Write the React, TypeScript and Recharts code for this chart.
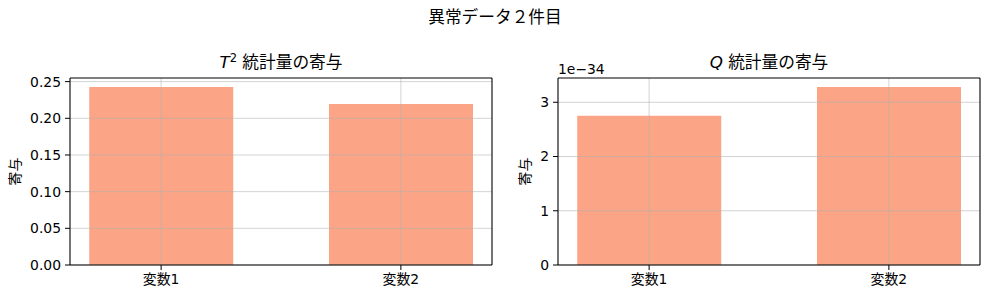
import { BarChart, Bar, XAxis, YAxis, ReferenceLine } from 'recharts';

const categories = ['変数1', '変数2'];
const t2Values = [0.2428, 0.2196];
const qValues = [2.749, 3.283]; // ×1e-34
const t2Ticks = [0, 0.05, 0.1, 0.15, 0.2, 0.25];
const qTicks = [0, 1, 2, 3];

const FONT = '"DejaVu Sans", "Noto Sans CJK JP", sans-serif';
const BAR_COLOR = '#fca486';
const GRID = '#b0b0b0';
const X_DOMAIN: [number, number] = [-0.38, 1.38];

interface PanelProps {
  values: number[];
  yTicks: number[];
  yFormat: (v: number) => string;
  yAxisWidth: number;
  rightMargin: number;
  labelX: number;
}

function Panel({ values, yTicks, yFormat, yAxisWidth, rightMargin, labelX }: PanelProps) {
  const data = categories.map((name, i) => ({ x: i, name, value: values[i] }));
  const yTop = Math.max(...values) * 1.05;
  const tickStyle = { fill: '#000', fontSize: 13.9, fontFamily: FONT };
  return (
    <BarChart
      width={500}
      height={299}
      data={data}
      margin={{ top: 78, right: rightMargin, bottom: 0, left: 0 }}
      style={{ fontFamily: FONT }}
    >
      <XAxis
        dataKey="x"
        type="number"
        domain={X_DOMAIN}
        ticks={[0, 1]}
        tickFormatter={(i: number) => categories[i]}
        height={34}
        tickSize={5}
        tickMargin={4}
        tick={tickStyle}
        stroke="#000"
        axisLine={{ stroke: '#000', strokeWidth: 1.1 }}
        tickLine={{ stroke: '#000' }}
        allowDataOverflow
      />
      <YAxis
        width={yAxisWidth}
        domain={[0, yTop]}
        ticks={yTicks}
        tickFormatter={yFormat}
        tickSize={5}
        tickMargin={4}
        tick={tickStyle}
        stroke="#000"
        axisLine={{ stroke: '#000', strokeWidth: 1.1 }}
        tickLine={{ stroke: '#000' }}
        allowDataOverflow
        label={{
          content: (props: any) => {
            const vb = props.viewBox;
            const cy = vb.y + vb.height / 2;
            return (
              <text
                x={labelX}
                y={cy}
                transform={`rotate(-90 ${labelX} ${cy})`}
                textAnchor="middle"
                dominantBaseline="central"
                fontSize={13.9}
                fontFamily={FONT}
                fill="#000"
              >
                寄与
              </text>
            );
          },
        }}
      />
      <Bar dataKey="value" fill={BAR_COLOR} barSize={144} isAnimationActive={false} />
      {yTicks.map((t) => (
        <ReferenceLine key={'y' + t} y={t} stroke={GRID} strokeOpacity={0.7} strokeWidth={0.8} />
      ))}
      {data.map((d) => (
        <ReferenceLine key={'x' + d.x} x={d.x} stroke={GRID} strokeOpacity={0.7} strokeWidth={0.8} />
      ))}
      <ReferenceLine y={yTop} stroke="#000" strokeWidth={1.1} />
      <ReferenceLine x={X_DOMAIN[1]} stroke="#000" strokeWidth={1.1} />
    </BarChart>
  );
}

const titleStyle: React.CSSProperties = {
  position: 'absolute',
  fontFamily: FONT,
  fontSize: 16.7,
  color: '#000',
  whiteSpace: 'nowrap',
  transform: 'translate(-50%, -50%)',
  lineHeight: 1,
};

export default function App() {
  return (
    <div
      style={{
        position: 'absolute',
        left: 0,
        top: 0,
        width: 990,
        height: 299,
        background: '#fff',
        overflow: 'hidden',
      }}
    >
      <div style={{ ...titleStyle, left: 495, top: 17 }}>異常データ２件目</div>
      <div style={{ ...titleStyle, left: 281, top: 62 }}>
        <i>T</i>
        <sup style={{ fontSize: 11.5, verticalAlign: 6 }}>2</sup> 統計量の寄与
      </div>
      <div style={{ ...titleStyle, left: 769, top: 62 }}>
        <i>Q</i> 統計量の寄与
      </div>
      <div style={{ position: 'absolute', left: 0, top: 0 }}>
        <Panel
          values={t2Values}
          yTicks={t2Ticks}
          yFormat={(v) => v.toFixed(2)}
          yAxisWidth={70}
          rightMargin={8}
          labelX={15}
        />
      </div>
      <div style={{ position: 'absolute', left: 490, top: 0 }}>
        <Panel
          values={qValues}
          yTicks={qTicks}
          yFormat={(v) => String(v)}
          yAxisWidth={68}
          rightMargin={10}
          labelX={35}
        />
      </div>
      <div
        style={{
          position: 'absolute',
          left: 558,
          top: 63,
          fontFamily: FONT,
          fontSize: 13.9,
          lineHeight: 1,
          whiteSpace: 'nowrap',
        }}
      >
        1e−34
      </div>
    </div>
  );
}
